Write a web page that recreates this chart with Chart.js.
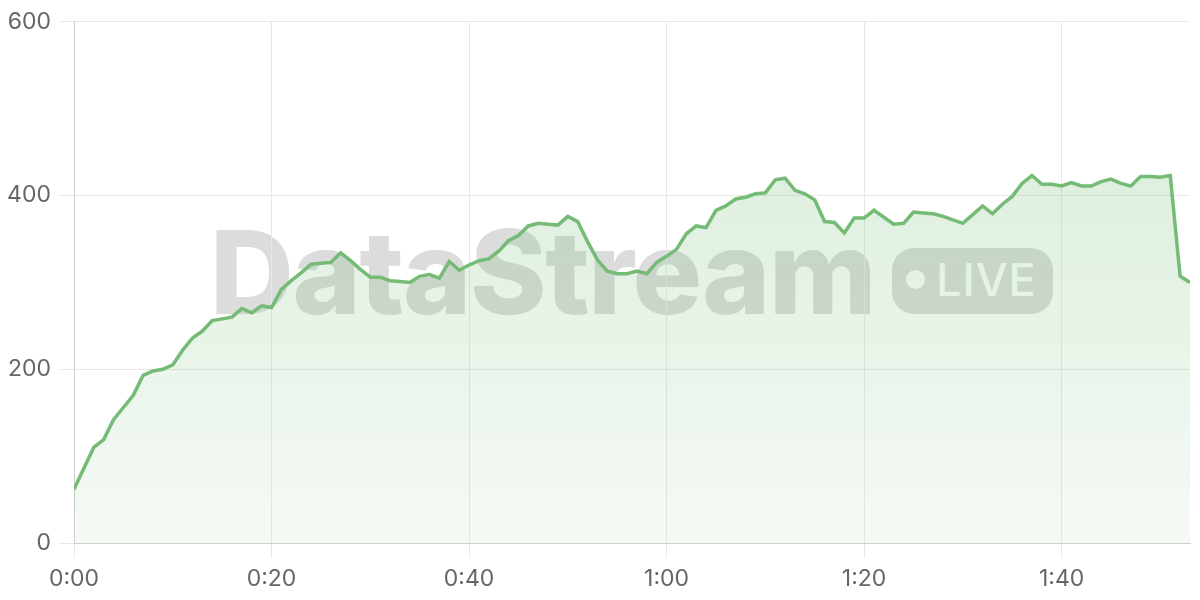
<!DOCTYPE html>
<html>
<head>
<meta charset="utf-8">
<script src="https://cdn.jsdelivr.net/npm/chart.js@4/dist/chart.umd.min.js"></script>
<style>
    html, body { margin: 0; padding: 0; background: #fff; }
    #wrap { position: relative; width: 1200px; height: 600px; }
    #wm { position: absolute; left: 0; top: 0; width: 1200px; height: 600px; z-index: 0; font-family: Inter, sans-serif; }
    #wm .brand { position: absolute; left: 210px; top: 214px; font-size: 116px; line-height: 1; font-weight: 800; color: #dcdcdc; letter-spacing: -1.3px; white-space: nowrap; }
    #wm .pill { position: absolute; left: 892px; top: 248px; width: 161px; height: 66px; border-radius: 22px; background: #dcdcdc; }
    #wm .dot { position: absolute; left: 14px; top: 22px; width: 19px; height: 19px; border-radius: 50%; background: #fff; }
    #wm .live { position: absolute; left: 44px; top: 9px; font-size: 45px; line-height: 1; font-weight: 500; color: #fff; letter-spacing: 1px; }
    #chartBox { position: absolute; left: 0; top: 0; width: 1200px; height: 600px; z-index: 1; }
</style>
</head>
<body>
<div id="wrap">
    <div id="wm">
        <span class="brand">DataStream</span>
        <span class="pill"><span class="dot"></span><span class="live">LIVE</span></span>
    </div>
    <div id="chartBox"><canvas id="myChart" width="1200" height="600"></canvas></div>
</div>
<script>
// one sample per second, 0:00 .. 1:53
const samples = [
    62, 86, 110, 119, 142, 156, 170, 193, 198, 200,
    205, 222, 236, 244, 256, 258, 260, 270, 265, 273,
    271, 292, 302, 311, 321, 322, 323, 334, 325, 315,
    306, 306, 302, 301, 300, 307, 309, 305, 324, 314,
    320, 325, 327, 336, 348, 354, 365, 368, 367, 366,
    376, 370, 347, 326, 313, 310, 310, 313, 310, 323,
    330, 338, 356, 365, 363, 383, 388, 396, 398, 402,
    403, 418, 420, 406, 402, 395, 370, 369, 357, 374,
    374, 383, 375, 367, 368, 381, 380, 379, 376, 372,
    368, 378, 388, 379, 390, 399, 414, 423, 413, 413,
    411, 415, 411, 411, 416, 419, 414, 411, 422, 422,
    421, 423, 307, 300
];
const xTicks = [0, 20, 40, 60, 80, 100];
const yTicks = [0, 200, 400, 600];

const lineColor = '#74bb76';
const gridColor = '#e8e8e8';
const axisColor = '#cfcfcf';
const labelFont = { family: 'Inter', size: 23 };

function fmtTime(sec) {
    const m = Math.floor(sec / 60);
    const s = sec % 60;
    return m + ':' + String(s).padStart(2, '0');
}

function fillGradient(context) {
    const area = context.chart.chartArea;
    if (!area) return 'rgba(116,187,118,0.2)';
    const g = context.chart.ctx.createLinearGradient(0, area.top, 0, area.bottom);
    g.addColorStop(0, 'rgba(116,187,118,0.30)');
    g.addColorStop(1, 'rgba(116,187,118,0.07)');
    return g;
}

const ctx = document.getElementById('myChart').getContext('2d');
const myChart = new Chart(ctx, {
    type: 'line',
    data: {
        datasets: [{
            data: samples.map((v, i) => ({ x: i, y: v })),
            borderColor: lineColor,
            borderWidth: 3.5,
            backgroundColor: fillGradient,
            fill: 'origin',
            tension: 0,
            pointRadius: 0
        }]
    },
    options: {
        responsive: false,
        animation: false,
        layout: { padding: { top: 20, right: 10, left: 0, bottom: 0 } },
        plugins: { legend: { display: false }, tooltip: { enabled: false } },
        scales: {
            x: {
                type: 'linear',
                min: 0,
                max: samples.length - 1,
                afterBuildTicks: scale => { scale.ticks = xTicks.map(v => ({ value: v })); },
                afterFit: scale => { scale.height = 57; },
                grid: { color: gridColor, tickLength: 15, tickColor: gridColor },
                border: { color: axisColor },
                ticks: {
                    color: '#666',
                    font: labelFont,
                    padding: 7,
                    maxRotation: 0,
                    callback: v => fmtTime(v)
                }
            },
            y: {
                min: 0,
                max: 600,
                afterBuildTicks: scale => { scale.ticks = yTicks.map(v => ({ value: v })); },
                afterFit: scale => { scale.width = 74; },
                grid: { color: gridColor, tickLength: 15, tickColor: gridColor },
                border: { color: axisColor },
                ticks: { color: '#666', font: labelFont, padding: 8 }
            }
        }
    }
});
</script>
</body>
</html>
